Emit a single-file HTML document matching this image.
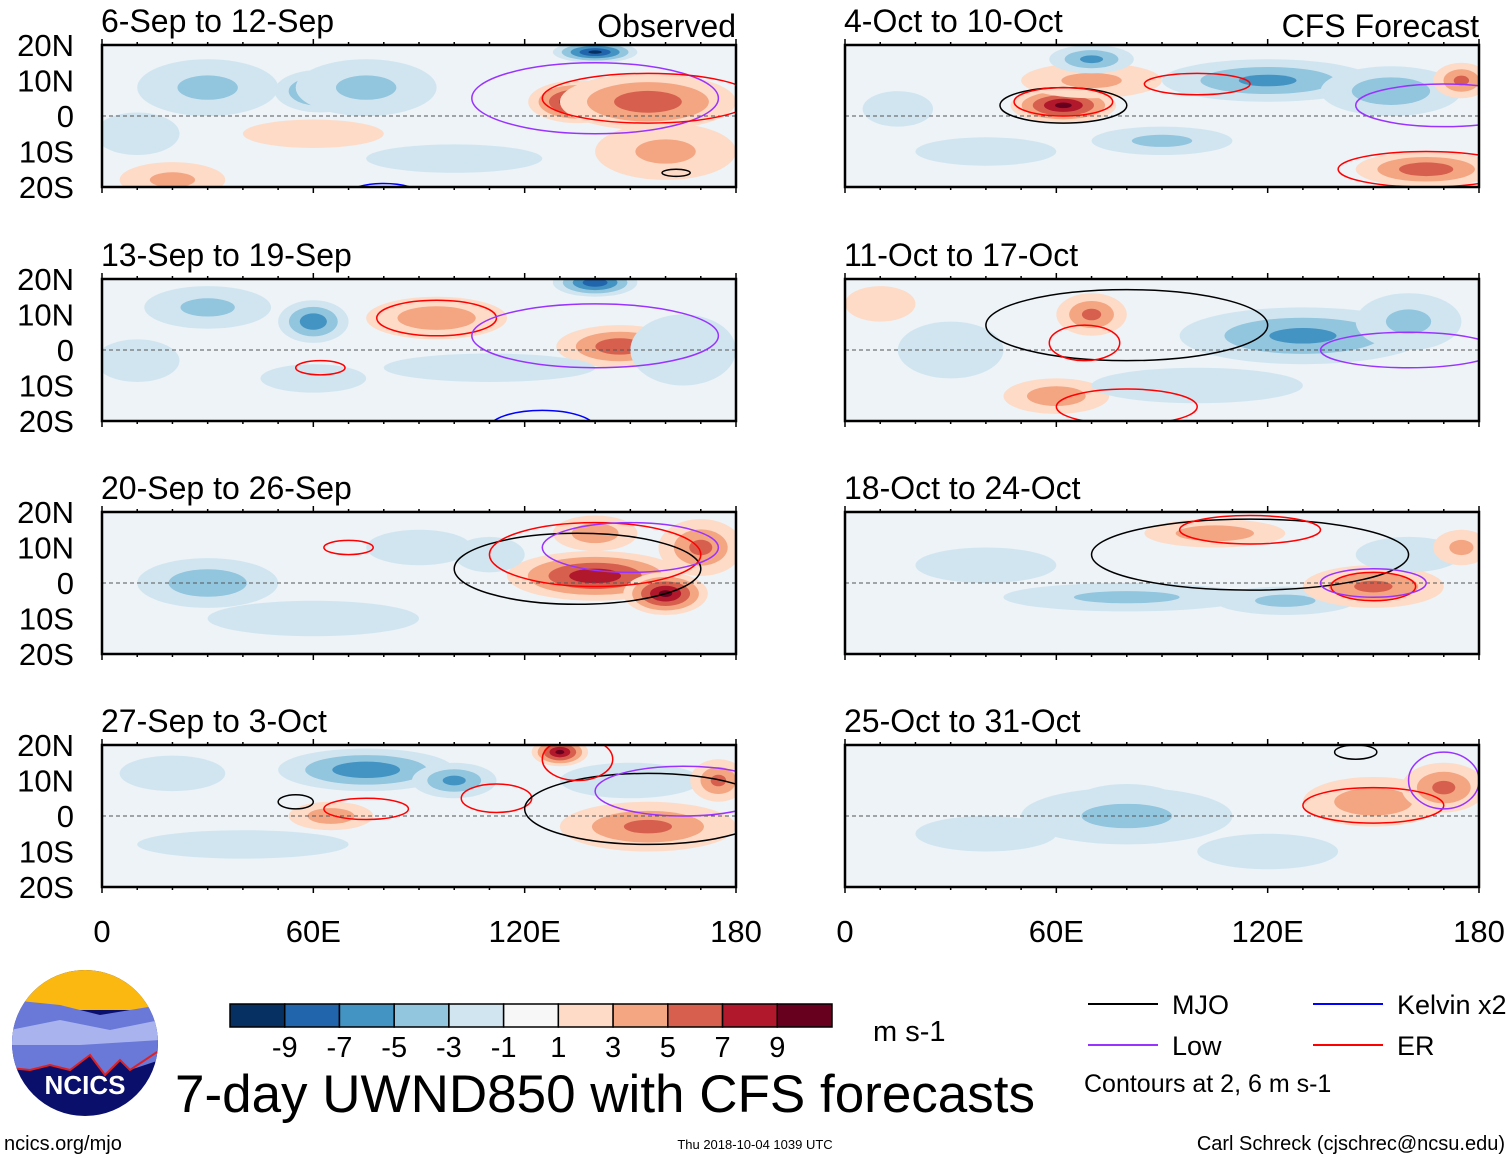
<!DOCTYPE html>
<html><head><meta charset="utf-8"><style>
body{margin:0;background:#fff;width:1510px;height:1159px;overflow:hidden}
svg text{font-family:"Liberation Sans",sans-serif}
</style></head><body>
<svg id="s" width="1510" height="1159" xmlns="http://www.w3.org/2000/svg"></svg>
<script>
const panelTitles=["6-Sep to 12-Sep","13-Sep to 19-Sep","20-Sep to 26-Sep","27-Sep to 3-Oct","4-Oct to 10-Oct","11-Oct to 17-Oct","18-Oct to 24-Oct","25-Oct to 31-Oct"];
const latTicks=[20,10,0,-10,-20];
const latLabels=["20N","10N","0","10S","20S"];
const lonTicks=[0,60,120,180];
const lonLabels=["0","60E","120E","180"];
const cbLevels=[-9,-7,-5,-3,-1,1,3,5,7,9];
const cbColors=["#053061","#2166ac","#4393c3","#92c5de","#d1e5f0","#f7f7f7","#fddbc7","#f4a582","#d6604d","#b2182b","#67001f"];
// blobs: [lon, lat, rlon, rlat, value]
const blobs0=[[20,-18,15,5,3],[62,7,13,6,-6],[75,8,20,8,-3],[30,8,20,8,-3],[140,18,12,3,-9],[135,4,14,6,9],[155,4,25,8,6],[160,-10,20,8,3],[60,-5,20,4,2],[100,-12,25,4,-2],[10,-5,12,6,-2]];
const blobs1=[[60,8,10,6,-6],[30,12,18,6,-3],[95,9,20,6,4],[140,19,12,4,-8],[147,1,18,6,6],[165,0,15,10,-2],[60,-8,15,4,-2],[110,-5,30,4,-2],[10,-3,12,6,-2]];
const blobs2=[[140,2,25,7,8],[160,-3,12,6,9],[140,14,12,5,4],[170,10,12,8,5],[30,0,20,7,-4],[90,10,15,5,-2],[60,-10,30,5,-2],[110,8,10,5,-2]];
const blobs3=[[75,13,25,6,-6],[100,10,12,5,-5],[130,18,8,4,9],[155,-3,25,7,5],[65,0,12,4,4],[150,10,20,5,-2],[40,-8,30,4,-2],[175,10,8,6,5],[20,12,15,5,-2]];
const blobs4=[[62,3,15,5,9],[70,10,20,5,3],[70,16,12,4,-5],[120,10,30,6,-5],[155,7,20,7,-4],[90,-7,20,4,-3],[165,-15,20,5,6],[175,10,8,5,5],[15,2,10,5,-2],[40,-10,20,4,-2]];
const blobs5=[[70,10,10,6,5],[130,4,35,8,-5],[60,-13,15,5,4],[10,13,10,5,2],[160,8,15,8,-3],[100,-10,30,5,-2],[30,0,15,8,-2]];
const blobs6=[[105,14,20,4,4],[80,-4,35,4,-3],[125,-5,20,4,-3],[150,-1,20,6,5],[40,5,20,5,-2],[160,8,15,5,-2],[175,10,8,5,3]];
const blobs7=[[80,4,15,5,-7],[80,0,30,8,-3],[150,4,20,7,4],[170,8,12,7,5],[120,-10,20,5,-2],[40,-5,20,5,-2]];
// contours: [type, lon, lat, rlon, rlat]
const cont0=[["L",140,5,35,10],["E",155,5,30,7],["K",80,-22,10,3],["M",163,-16,4,1]];
const cont1=[["E",95,9,17,5],["E",62,-5,7,2],["L",140,4,35,9],["K",125,-22,15,5]];
const cont2=[["M",135,4,35,10],["E",140,8,30,9],["E",70,10,7,2],["L",150,10,25,7]];
const cont3=[["E",75,2,12,3],["E",112,5,10,4],["M",155,2,35,10],["E",135,16,10,6],["M",55,4,5,2],["L",165,7,25,7]];
const cont4=[["M",62,3,18,5],["E",62,4,14,4],["E",100,9,15,3],["L",170,3,25,6],["E",165,-15,25,5]];
const cont5=[["M",80,7,40,10],["E",68,2,10,5],["E",80,-16,20,5],["L",160,0,25,5]];
const cont6=[["M",115,8,45,10],["E",150,-1,12,4],["L",150,0,15,4],["E",115,15,20,4]];
const cont7=[["E",150,3,20,5],["M",145,18,6,2],["L",170,10,10,8]];
const allBlobs=[blobs0,blobs1,blobs2,blobs3,blobs4,blobs5,blobs6,blobs7];
const allCont=[cont0,cont1,cont2,cont3,cont4,cont5,cont6,cont7];

const S=document.getElementById('s');const NS="http://www.w3.org/2000/svg";
function mk(t,a,p){const e=document.createElementNS(NS,t);for(const k in a)e.setAttribute(k,a[k]);(p||S).appendChild(e);return e;}
function txt(x,y,s,size,anchor,p){const e=mk('text',{x:x,y:y,'font-size':size,'text-anchor':anchor||'start',fill:'#000'},p);e.textContent=s;return e;}
const rowTop=[45,279,512,745],colX=[102,845],PW=634,PH=142;
function colorFor(v,t){return v>0?cbColors[5+t]:cbColors[5-t];}
const thr=[1,3,5,7,9];
const ctype={M:"#000",L:"#9933ff",K:"#0000ff",E:"#ff0000"};
for(let p=0;p<8;p++){
 const col=p<4?0:1,row=p%4,x0=colX[col],y0=rowTop[row];
 const xs=lon=>x0+lon/180*PW, ys=lat=>y0+(20-lat)/40*PH;
 const g=mk('g',{});
 
 
 const cid='c'+p;const cp=mk('clipPath',{id:cid},g);mk('rect',{x:x0,y:y0,width:PW,height:PH},cp);
 mk('rect',{x:x0,y:y0,width:PW,height:PH,fill:'#edf3f7'},g);
 const inner=mk('g',{'clip-path':'url(#'+cid+')'},g);
 allBlobs[p].forEach(b=>{const v=b[4],a=Math.abs(v);
  for(let t=0;t<thr.length&&thr[t]<=a;t++){const sc=(a-thr[t]+1.5)/(a+0.5);
   const e=mk('ellipse',{cx:xs(b[0]),cy:ys(b[1]),rx:b[2]/180*PW*sc,ry:b[3]/40*PH*sc,fill:colorFor(v,t+1)},inner);
   }});
 mk('line',{x1:x0,x2:x0+PW,y1:ys(0),y2:ys(0),stroke:'#555','stroke-dasharray':'4,3','stroke-width':1},inner);
 allCont[p].forEach(c=>{const e=mk('ellipse',{cx:xs(c[1]),cy:ys(c[2]),rx:c[3]/180*PW,ry:c[4]/40*PH,fill:'none',stroke:ctype[c[0]],'stroke-width':1.5},inner);
  });
 mk('rect',{x:x0,y:y0,width:PW,height:PH,fill:'none',stroke:'#000','stroke-width':2.5},g);
 for(let l=0;l<=180;l+=10){const L=l%60==0?6:3;
  mk('line',{x1:xs(l),x2:xs(l),y1:y0-L,y2:y0,stroke:'#000','stroke-width':1.5},g);
  mk('line',{x1:xs(l),x2:xs(l),y1:y0+PH,y2:y0+PH+L,stroke:'#000','stroke-width':1.5},g);}
 const tt=txt(x0-1,y0-13,panelTitles[p],32,'start',g);
 
 if(col==0) latTicks.forEach((la,i)=>{const e=txt(74,ys(la)+11,latLabels[i],31,'end',g);});
 if(row==3) lonTicks.forEach((lo,i)=>{const e=txt(xs(lo),942,lonLabels[i],31,'middle',g);});
}
let h=txt(736,37,"Observed",32,'end');
h=txt(1479,37,"CFS Forecast",32,'end');
const cb=mk('g',{});
const bw=(832-230)/cbColors.length;
cbColors.forEach((c,i)=>mk('rect',{x:230+i*bw,y:1004,width:bw,height:23,fill:c,stroke:'#000','stroke-width':1.5},cb));
cbLevels.forEach((v,i)=>txt(230+(i+1)*bw,1057,String(v),29,'middle',cb));
h=txt(873,1041,"m s-1",29);
h=txt(605,1112,"7-day UWND850 with CFS forecasts",53,'middle');
const lg=[["MJO","#000",1088,1004],["Low","#9933ff",1088,1045],["Kelvin x2","#0000ff",1313,1004],["ER","#ff0000",1313,1045]];
lg.forEach(l=>{const g=mk('g',{});
 mk('line',{x1:l[2],x2:l[2]+70,y1:l[3],y2:l[3],stroke:l[1],'stroke-width':2},g);txt(l[2]+84,l[3]+10,l[0],27,'start',g);});
h=txt(1084,1092,"Contours at 2, 6 m s-1",25);
h=txt(4,1150,"ncics.org/mjo",20);
h=txt(755,1149,"Thu 2018-10-04 1039 UTC",13,'middle');
h=txt(1505,1150,"Carl Schreck (cjschrec@ncsu.edu)",20,'end');
const lo=mk('g',{});
const lc=mk('clipPath',{id:'lc'},lo);mk('circle',{cx:85,cy:1043,r:73},lc);
const li=mk('g',{'clip-path':'url(#lc)'},lo);
mk('rect',{x:10,y:968,width:150,height:150,fill:'#0a0f6b'},li);
mk('rect',{x:10,y:968,width:150,height:42,fill:'#fbb810'},li);
mk('path',{d:'M10 1000 L60 1005 L100 1015 L160 1005 L160 1060 L130 1070 L120 1060 L105 1075 L90 1055 L70 1070 L50 1065 L30 1070 L10 1068Z',fill:'#6a78d8'},li);
mk('path',{d:'M10 1030 L60 1020 L110 1030 L160 1020 L160 1040 L80 1045 L10 1045Z',fill:'#a9b4ee'},li);
mk('path',{d:'M10 1068 L30 1070 L50 1065 L70 1070 L90 1055 L105 1075 L120 1060 L130 1070 L160 1050',fill:'none',stroke:'#e02020','stroke-width':2},li);
const nt=txt(85,1094,"NCICS",26,'middle',lo);nt.setAttribute('fill','#fff');nt.setAttribute('font-weight','bold');
</script>
</body></html>
